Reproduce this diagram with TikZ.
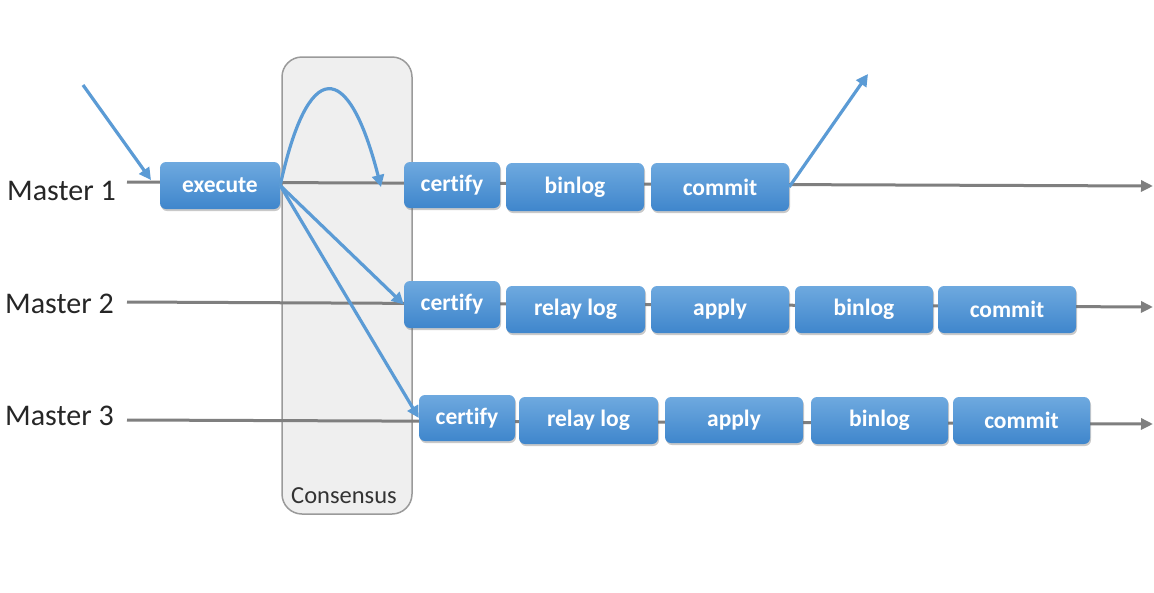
\documentclass[tikz,border=0pt]{standalone}
\usepackage{fontspec}
\setmainfont{Carlito}[Ligatures=NoCommon]
\usetikzlibrary{arrows.meta,shadows}
\definecolor{stepblue}{HTML}{5B9BD5}
\definecolor{steptop}{HTML}{6EA9DF}
\definecolor{stepbot}{HTML}{3F86CC}
\definecolor{linegray}{HTML}{7F7F7F}
\definecolor{consfill}{HTML}{EFEFEF}
\definecolor{consdraw}{HTML}{9A9A9A}
\tikzset{
  stepbox/.style={rounded corners=6pt, top color=steptop, bottom color=stepbot, draw=none,
    text=white, font=\bfseries\fontsize{23.5}{26}\selectfont, inner sep=0pt,
    drop shadow={shadow xshift=1pt, shadow yshift=-2pt, opacity=0.35, fill=black!60}},
  masterlbl/.style={font=\fontsize{30}{33}\selectfont, text=black!85, inner sep=0pt},
  timeline/.style={draw=linegray, line width=3pt, -{Triangle[length=12pt,width=11pt]}},
  flow/.style={draw=stepblue, line width=3.2pt, -{Triangle[length=12pt,width=12pt]}},
}
\newcommand{\stepnode}[6]{\node[stepbox, minimum width={#4-#3}, minimum height={#6-#5}] (#1) at ({(#3+#4)/2},{(#5+#6)/2}) {#2};}
\begin{document}
\begin{tikzpicture}[x=1pt,y=-1pt]
\useasboundingbox[fill=white] (0,0) rectangle (1154,592);
% consensus box
\node[draw=consdraw, fill=consfill, line width=1.5pt, rounded corners=20pt, minimum width=130pt, minimum height=457pt, inner sep=0pt] (cons) at (347,285.5) {};
\node[font=\fontsize{24.5}{27}\selectfont, text=black!80, anchor=base] (conslbl) at (344,503) {Consensus};
% labels
\node[masterlbl, anchor=west] (m1) at (7,191) {Master 1};
\node[masterlbl, anchor=west] (m2) at (5,304) {Master 2};
\node[masterlbl, anchor=west] (m3) at (5,416) {Master 3};
% timeline coordinates
\coordinate (l1s) at (127,182);
\coordinate (l1e) at (1153,186);
\coordinate (l2s) at (127,302);
\coordinate (l2e) at (1153,307);
\coordinate (l3s) at (127,420);
\coordinate (l3e) at (1153,424);
\draw[timeline] (l1s) -- (l1e);
\draw[timeline] (l2s) -- (l2e);
\draw[timeline] (l3s) -- (l3e);
% row 1
\stepnode{exe}{execute}{160}{280}{162}{209}
\stepnode{c1}{certify}{404}{500}{162}{208}
\stepnode{b1}{binlog}{506}{644}{163}{211}
\stepnode{k1}{commit}{651}{789}{163}{211}
% row 2
\stepnode{c2}{certify}{404}{500}{281}{328}
\stepnode{r2}{relay log}{506}{645}{286}{333}
\stepnode{a2}{apply}{651}{789}{286}{333}
\stepnode{b2}{binlog}{795}{933}{286}{333}
\stepnode{k2}{commit}{938}{1076}{286}{333}
% row 3
\stepnode{c3}{certify}{419}{515}{395}{441}
\stepnode{r3}{relay log}{519}{658}{397}{444}
\stepnode{a3}{apply}{665}{803}{397}{443}
\stepnode{b3}{binlog}{811}{948}{397}{444}
\stepnode{k3}{commit}{953}{1090}{397}{444}
% flow arrows
\coordinate (in) at (83,85);
\coordinate (inend) at (151,180);
\coordinate (out) at (868,74);
\coordinate (loopend) at (381,187);
\draw[flow] (in) -- (inend);
\draw[flow] (exe.east) .. controls (308,58) and (348,58) .. (loopend);
\draw[flow] (exe.east) -- (c2.west);
\draw[flow] (exe.east) -- (c3.west);
\draw[flow] (k1.east) -- (out);
\end{tikzpicture}
\end{document}
